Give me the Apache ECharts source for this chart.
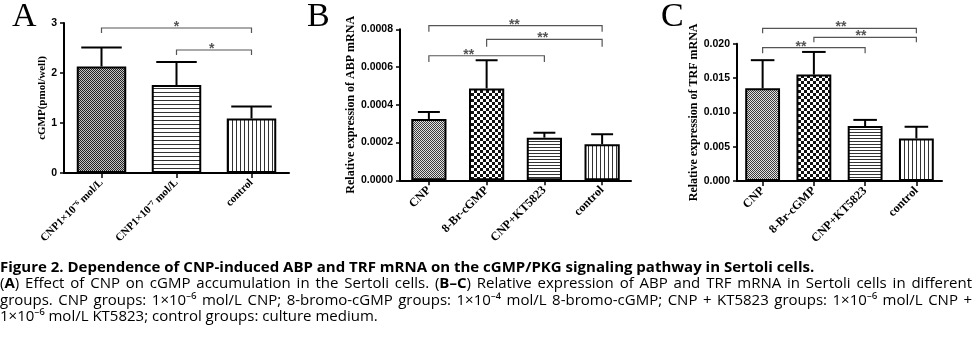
<!DOCTYPE html>
<html><head><meta charset="utf-8">
<script src="https://cdn.jsdelivr.net/npm/echarts@6/dist/echarts.min.js"></script>
<style>html,body{margin:0;padding:0;background:#fff}#c{width:974px;height:357px}</style>
</head><body><div id="c"></div>
<script>
// ---------- DATA ----------
const catsA = ['CNP1×10⁻⁶ mol/L', 'CNP1×10⁻⁷ mol/L', 'control'];
const valsA = [2.13, 1.76, 1.09];
const errsA = [0.38, 0.46, 0.24];
const yTicksA = [0, 1, 2, 3];
// [fromIndex, toIndex, bracketLevel, bracketDrop, starPos(category units), label]
const sigA = [[0, 2, 2.90, 2.80, 1.0, '*'], [1, 2, 2.46, 2.36, 1.47, '*']];

const catsB = ['CNP', '8-Br-cGMP', 'CNP+KT5823', 'control'];
const valsB = [0.000325, 0.000487, 0.000226, 0.000191];
const errsB = [0.000037, 0.000149, 0.000026, 0.000053];
const yTicksB = [0, 0.0002, 0.0004, 0.0006, 0.0008];
const sigB = [[0, 3, 0.000819, 0.000787, 1.48, '**'], [1, 3, 0.000747, 0.000708, 1.97, '**'], [0, 2, 0.000660, 0.000627, 0.69, '**']];

const catsC = ['CNP', '8-Br-cGMP', 'CNP+KT5823', 'control'];
const valsC = [0.0135, 0.0155, 0.0080, 0.0062];
const errsC = [0.0041, 0.0033, 0.0009, 0.0017];
const yTicksC = [0, 0.005, 0.010, 0.015, 0.020];
const sigC = [[0, 3, 0.02224, 0.02151, 1.53, '**'], [1, 3, 0.02093, 0.02020, 1.92, '**'], [0, 2, 0.01942, 0.01860, 0.75, '**']];

const captionLines = [
  '{b|Figure 2. Dependence of CNP-induced ABP and TRF mRNA on the cGMP/PKG signaling pathway in Sertoli cells.}',
  '({b|A}) Effect of CNP on cGMP accumulation in the Sertoli cells. ({b|B–C}) Relative expression of ABP and TRF mRNA in Sertoli cells in different',
  'groups. CNP groups: 1×10⁻⁶ mol/L CNP; 8-bromo-cGMP groups: 1×10⁻⁴ mol/L 8-bromo-cGMP; CNP + KT5823 groups: 1×10⁻⁶ mol/L CNP +',
  '1×10⁻⁶ mol/L KT5823; control groups: culture medium.'
];
const captionJustify = [false, true, true, false];

// ---------- PATTERNS ----------
function makePattern(kind) {
  const c = document.createElement('canvas');
  const ctx = c.getContext('2d');
  if (kind === 'fineDark') {
    c.width = 2; c.height = 2;
    ctx.fillStyle = '#c4c4c4'; ctx.fillRect(0, 0, 2, 2);
    ctx.fillStyle = '#222'; ctx.fillRect(0, 0, 1, 1); ctx.fillRect(1, 1, 1, 1);
  } else if (kind === 'fine') {
    c.width = 2; c.height = 2;
    ctx.fillStyle = '#e2e2e2'; ctx.fillRect(0, 0, 2, 2);
    ctx.fillStyle = '#3a3a3a'; ctx.fillRect(0, 0, 1, 1); ctx.fillRect(1, 1, 1, 1);
  } else if (kind === 'checker') {
    c.width = 6; c.height = 6;
    ctx.fillStyle = '#fff'; ctx.fillRect(0, 0, 6, 6);
    ctx.fillStyle = '#111'; ctx.fillRect(0, 0, 3, 3); ctx.fillRect(3, 3, 3, 3);
  } else if (kind === 'hlines' || kind === 'hlines3') {
    const p = kind === 'hlines' ? 4 : 3;
    c.width = p; c.height = p;
    ctx.fillStyle = '#fff'; ctx.fillRect(0, 0, p, p);
    ctx.fillStyle = '#333'; ctx.fillRect(0, 0, p, 1);
  } else if (kind === 'vlines') {
    c.width = 4; c.height = 4;
    ctx.fillStyle = '#fff'; ctx.fillRect(0, 0, 4, 4);
    ctx.fillStyle = '#333'; ctx.fillRect(0, 0, 1, 4);
  }
  return { image: c, repeat: 'repeat' };
}

const SERIF = '"Liberation Serif", "Times New Roman", serif';
const SANS = '"Liberation Sans", Arial, sans-serif';

const panels = [
  { cats: catsA, vals: valsA, errs: errsA, ticks: yTicksA, sig: sigA, name: 'cGMP(pmol/well)',
    grid: { left: 64, top: 23, width: 225, height: 150 }, pats: ['fineDark', 'hlines', 'vlines'],
    barWidth: '66%', fmt: v => String(v), labelSize: 11, nameSize: 11, nameGap: 16, capRatio: 0.27 },
  { cats: catsB, vals: valsB, errs: errsB, ticks: yTicksB, sig: sigB, name: 'Relative expression of ABP mRNA',
    grid: { left: 400, top: 29.3, width: 231, height: 151 }, pats: ['fine', 'checker', 'hlines3', 'vlines'],
    barWidth: '61%', fmt: v => v.toFixed(4), labelSize: 12, nameSize: 12, nameGap: 42, capRatio: 0.19 },
  { cats: catsC, vals: valsC, errs: errsC, ticks: yTicksC, sig: sigC, name: 'Relative expression of TRF mRNA',
    grid: { left: 737, top: 43.7, width: 205, height: 137.3 }, pats: ['fine', 'checker', 'hlines3', 'vlines'],
    barWidth: '68%', fmt: v => v.toFixed(3), labelSize: 12, nameSize: 12, nameGap: 35, capRatio: 0.23 }
];

const grid = [], xAxis = [], yAxis = [], series = [];
panels.forEach((p, k) => {
  grid.push(Object.assign({ containLabel: false }, p.grid));
  xAxis.push({
    type: 'category', gridIndex: k, data: p.cats,
    axisLine: { lineStyle: { color: '#000', width: 2 } },
    axisTick: { show: true, alignWithLabel: true, length: 5, lineStyle: { color: '#000', width: 1.5 } },
    axisLabel: { interval: 0, rotate: 45, margin: 8, color: '#000', fontFamily: SERIF, fontWeight: 'bold', fontSize: p.labelSize },
    splitLine: { show: false }
  });
  const interval = p.ticks[1] - p.ticks[0];
  yAxis.push({
    type: 'value', gridIndex: k, min: p.ticks[0], max: p.ticks[p.ticks.length - 1], interval: interval,
    name: p.name, nameLocation: 'middle', nameRotate: 90, nameGap: p.nameGap,
    nameTextStyle: { color: '#000', fontFamily: SERIF, fontWeight: 'bold', fontSize: p.nameSize },
    axisLine: { show: true, lineStyle: { color: '#000', width: 2 } },
    axisTick: { show: true, length: 4, lineStyle: { color: '#000', width: 1.5 } },
    axisLabel: { color: '#000', fontFamily: SANS, fontWeight: 'bold', fontSize: 10.5, margin: 7, formatter: p.fmt },
    splitLine: { show: false }
  });
  series.push({
    type: 'bar', xAxisIndex: k, yAxisIndex: k, barWidth: p.barWidth, z: 3,
    data: p.vals.map((v, i) => ({ value: v, itemStyle: { color: makePattern(p.pats[i]) } })),
    itemStyle: { borderColor: '#000', borderWidth: 2 },
    emphasis: { disabled: true }, animation: false
  });
  const capRatio = p.capRatio;
  series.push({
    type: 'custom', xAxisIndex: k, yAxisIndex: k, z: 2, animation: false,
    encode: { x: 0, y: 1 },
    data: p.vals.map((v, i) => [i, v, p.errs[i]]),
    renderItem: function (params, api) {
      const i = api.value(0), v = api.value(1), e = api.value(2);
      const base = api.coord([i, v]);
      const top = api.coord([i, v + e]);
      const half = api.size([1, 0])[0] * capRatio;
      return { type: 'group', children: [
        { type: 'line', shape: { x1: base[0], y1: base[1], x2: top[0], y2: top[1] }, style: { stroke: '#000', lineWidth: 2 } },
        { type: 'line', shape: { x1: top[0] - half, y1: top[1], x2: top[0] + half, y2: top[1] }, style: { stroke: '#000', lineWidth: 2 } }
      ] };
    }
  });
  series.push({
    type: 'custom', xAxisIndex: k, yAxisIndex: k, z: 4, animation: false, clip: false,
    encode: { x: 0, y: 2 },
    data: p.sig.map(s => [s[0], s[1], s[2], s[3], s[4]]),
    renderItem: function (params, api) {
      const a = api.value(0), b = api.value(1), lvl = api.value(2), drop = api.value(3), pos = api.value(4);
      const s = p.sig[params.dataIndex][5];
      const pa = api.coord([a, lvl]), pb = api.coord([b, lvl]);
      const pd = api.coord([a, drop]);
      const x0 = api.coord([0, lvl])[0], x1 = api.coord([1, lvl])[0];
      const lx = x0 + (x1 - x0) * pos;
      const col = '#555';
      return { type: 'group', children: [
        { type: 'polyline', shape: { points: [[pa[0], pd[1]], [pa[0], pa[1]], [pb[0], pb[1]], [pb[0], pd[1]]] }, style: { stroke: col, lineWidth: 1.2, fill: null } },
        { type: 'text', style: { text: s, x: lx, y: pa[1] + 6, align: 'center', verticalAlign: 'bottom', fill: col, font: 'bold 14px ' + SANS } }
      ] };
    }
  });
});

const graphic = [
  { type: 'text', left: 12, top: 0, style: { text: 'A', font: '34px ' + SERIF, fill: '#000' } },
  { type: 'text', left: 307, top: 0, style: { text: 'B', font: '34px ' + SERIF, fill: '#000' } },
  { type: 'text', left: 661, top: 0, style: { text: 'C', font: '34px ' + SERIF, fill: '#000' } }
];

// ---------- CAPTION (justified like the source) ----------
const CAP = '"Open Sans", "Noto Sans", sans-serif';
const FS = 15;
const CAP_W = 972;
const mctx = document.createElement('canvas').getContext('2d');
function segs(word) {
  const out = []; const re = /\{b\|([^}]*)\}/g; let last = 0, m;
  while ((m = re.exec(word))) {
    if (m.index > last) out.push({ t: word.slice(last, m.index), b: false });
    out.push({ t: m[1], b: true }); last = re.lastIndex;
  }
  if (last < word.length) out.push({ t: word.slice(last), b: false });
  return out;
}
function measure(word) {
  return segs(word).reduce((s, g) => { mctx.font = (g.b ? 'bold ' : '') + FS + 'px ' + CAP; return s + mctx.measureText(g.t).width; }, 0);
}
const richB = { b: { fontFamily: CAP, fontSize: FS, fontWeight: 'bold', fill: '#000' } };
captionLines.forEach((t, i) => {
  const y = 260 + i * 16.4;
  if (!captionJustify[i]) {
    graphic.push({ type: 'text', x: 0, y: y, style: { text: t, fill: '#000', fontFamily: CAP, fontSize: FS, verticalAlign: 'top', rich: richB } });
    return;
  }
  const words = t.split(' ');
  const widths = words.map(measure);
  const total = widths.reduce((a, b) => a + b, 0);
  const gap = (CAP_W - total) / (words.length - 1);
  let x = 0;
  words.forEach((w, j) => {
    graphic.push({ type: 'text', x: x, y: y, style: { text: w, fill: '#000', fontFamily: CAP, fontSize: FS, verticalAlign: 'top', rich: richB } });
    x += widths[j] + gap;
  });
});

const chart = echarts.init(document.getElementById('c'), null, { renderer: 'canvas' });
chart.setOption({ animation: false, backgroundColor: '#fff', grid, xAxis, yAxis, series, graphic });
</script>
</body></html>
